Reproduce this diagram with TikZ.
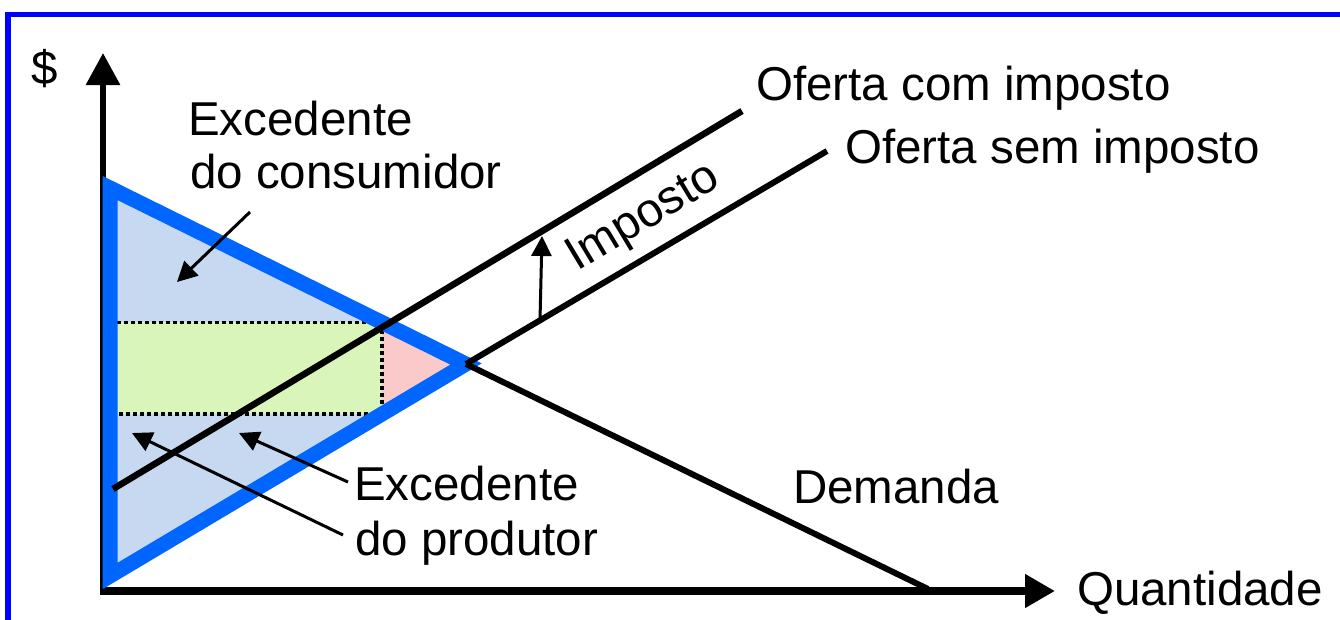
\documentclass[tikz,border=0pt]{standalone}
\usepackage{fontspec}
\setmainfont{Liberation Sans}
\usetikzlibrary{arrows.meta}
\definecolor{frameblue}{RGB}{0,0,255}
\definecolor{csblue}{RGB}{0,102,255}
\definecolor{fillblue}{RGB}{198,217,241}
\definecolor{fillgreen}{RGB}{217,245,185}
\definecolor{fillpink}{RGB}{250,202,202}
\begin{document}
\begin{tikzpicture}[x=1pt,y=-1pt,
  lbl/.style={anchor=base west, inner sep=0pt, font=\fontsize{47.5}{53}\selectfont},
  curve/.style={line width=6.5pt, black},
  yaxis/.style={line width=6pt, -{Triangle[length=32pt,width=33pt]}},
  xaxis/.style={line width=7.5pt, -{Triangle[length=30pt,width=32pt]}},
  callout/.style={line width=3pt, -{Triangle[length=20pt,width=20pt]}},
  dotb/.style={line width=3.2pt, dash pattern=on 4pt off 3pt}]
\useasboundingbox (0,0) rectangle (1340,619);
\clip (0,0) rectangle (1340,619);
% frame
\draw[frameblue, line width=5.5pt] (8,14.5) rectangle (1400,700);
% key points
\coordinate (O) at (103,591);
\coordinate (Ytop) at (103,53);
\coordinate (Xend) at (1055,591);
\coordinate (A) at (110,188);
\coordinate (B) at (466,364);
\coordinate (C) at (110,576);
\coordinate (Qt) at (382,322.4);
\coordinate (Qb) at (382,414);
\coordinate (Lt) at (110,322.4);
\coordinate (Lb) at (110,414);
\coordinate (Send) at (827,151);
\coordinate (Tstart) at (113,489);
\coordinate (Tend) at (742,111);
\coordinate (Dend) at (928,589);
% axes
\draw[yaxis] (103,594) -- (Ytop);
\draw[xaxis] (100,591) -- (Xend);
% areas
\fill[fillblue] (A) -- (B) -- (C) -- cycle;
\fill[fillgreen] (Lt) rectangle (Qb);
\fill[fillpink] (Qt) -- (B) -- (Qb) -- cycle;
\draw[dotb] (Lt) -- (Qt) -- (Qb) -- (Lb);
\draw[csblue, line width=15pt, line join=miter] (A) -- (B) -- (C) -- cycle;
% curves
\draw[curve] (Tstart) -- (Tend);
\draw[curve, line width=6pt] (B) -- (Send);
\draw[curve, line width=6pt] (B) -- (Dend);
% tax arrow
\coordinate (Ta) at (540,320);
\coordinate (Tb) at (542,236);
\draw[callout] (Ta) -- (Tb);
% labels
\node[lbl] (dollar) at (31,84) {\$};
\node[lbl] (ec1) at (188,135) {Excedente};
\node[lbl] (ec2) at (190,188) {do consumidor};
\node[lbl] (ep1) at (354,500) {Excedente};
\node[lbl] (ep2) at (355,555) {do produtor};
\node[lbl] (oc) at (756,100) {Oferta com imposto};
\node[lbl] (os) at (845,163) {Oferta sem imposto};
\node[lbl] (dem) at (793,503) {Demanda};
\node[lbl] (qty) at (1077,605) {Quantidade};
\node[lbl, rotate=31] (imp) at (577,272) {Imposto};
% callouts
\coordinate (c1s) at (250,212);
\coordinate (c1e) at (177,282);
\coordinate (p1s) at (348,482);
\coordinate (p1e) at (239,433);
\coordinate (p2s) at (343,535);
\coordinate (p2e) at (132,433);
\draw[callout] (c1s) -- (c1e);
\draw[callout] (p1s) -- (p1e);
\draw[callout] (p2s) -- (p2e);
\end{tikzpicture}
\end{document}
